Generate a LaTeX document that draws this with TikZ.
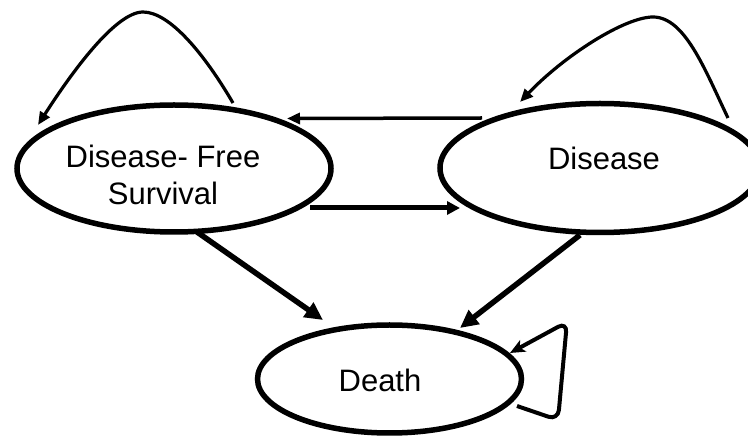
\documentclass[tikz,border=0pt]{standalone}
\usepackage{fontspec}
\setmainfont{Liberation Sans}
\usetikzlibrary{shapes.geometric,arrows.meta}
\begin{document}
\begin{tikzpicture}[x=1pt,y=-1pt,
  state/.style={ellipse,draw=black,line width=5.5pt,inner sep=0pt},
  lbl/.style={font=\fontsize{31}{37}\selectfont,inner sep=0pt,align=center},
  looparrow/.style={line width=3.2pt,-{Triangle[length=13pt,width=11pt]}},
  toparrow/.style={line width=3.5pt,-{Triangle[length=13pt,width=11pt]}},
  botarrow/.style={line width=5pt,-{Triangle[length=13pt,width=13pt]}},
  diagarrow/.style={line width=5.5pt,-{Triangle[length=18pt,width=17pt]}},
  deathloop/.style={line width=4pt,rounded corners=10pt,-{Stealth[length=15pt,width=13pt,inset=4pt]}}
]
\useasboundingbox (0,0) rectangle (748,438);

\node[state,minimum width=314pt,minimum height=127pt] (dfs) at (174,168.5) {};
\node[state,minimum width=320pt,minimum height=129pt] (dis) at (600,168) {};
\node[state,minimum width=264pt,minimum height=108pt] (dth) at (389.5,379) {};

\node[lbl,anchor=north] (tdfs) at (163,144.8) {Disease- Free\\Survival};
\node[lbl,anchor=base] (tdis) at (604,170) {Disease};
\node[lbl,anchor=base] (tdth) at (380,392) {Death};

% self loop on Disease-Free Survival
\draw[looparrow] ([shift={(59,-65.5)}]dfs.center)
  .. controls ([shift={(31,-113.5)}]dfs.center) and ([shift={(-4,-156.5)}]dfs.center) .. ([shift={(-31,-156.5)}]dfs.center)
  .. controls ([shift={(-59,-156.5)}]dfs.center) and ([shift={(-104,-93.5)}]dfs.center) .. ([shift={(-136,-43.5)}]dfs.center);

% self loop on Disease
\draw[looparrow] ([shift={(128,-50)}]dis.center)
  .. controls ([shift={(105,-98)}]dis.center) and ([shift={(85,-151)}]dis.center) .. ([shift={(53,-151)}]dis.center)
  .. controls ([shift={(25,-151)}]dis.center) and ([shift={(-35,-113)}]dis.center) .. ([shift={(-80,-66)}]dis.center);

% Disease -> Disease-Free Survival
\draw[toparrow] ([shift={(-118,-50)}]dis.center) -- ([shift={(113,-50)}]dfs.center);
% Disease-Free Survival -> Disease
\draw[botarrow] ([shift={(136,39.5)}]dfs.center) -- ([shift={(-140,40)}]dis.center);

% to Death
\draw[diagarrow] ([shift={(23,63.5)}]dfs.center) -- ([shift={(-66.5,-59)}]dth.center);
\draw[diagarrow] ([shift={(-20,67)}]dis.center) -- ([shift={(70.5,-51)}]dth.center);

% self loop on Death
\draw[deathloop] ([shift={(127.5,27)}]dth.center) -- ([shift={(168.5,41)}]dth.center)
  -- ([shift={(177.5,-57)}]dth.center) -- ([shift={(120.5,-26)}]dth.center);
\end{tikzpicture}
\end{document}
